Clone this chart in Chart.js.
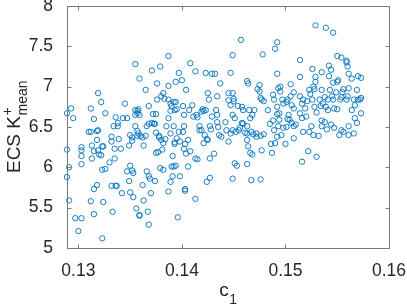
<!DOCTYPE html>
<html>
<head>
<meta charset="utf-8">
<script src="https://cdn.jsdelivr.net/npm/chart.js@4.4.0/dist/chart.umd.min.js"></script>
<style>
  html, body { margin: 0; padding: 0; background: #fff; }
  #wrap { width: 407px; height: 308px; }
</style>
</head>
<body>
<div id="wrap"><canvas id="chart" width="407" height="308"></canvas></div>
<script>
// values (c1, ECS K+mean)
const c1Values = [
  0.1289,0.1293,0.1295,0.1289,0.1291,0.1289,0.1291,0.1297,0.1300,0.1303,
  0.1303,0.1303,0.1303,0.1303,0.1312,0.1315,0.1310,0.1312,0.1318,0.1319,
  0.1313,0.1315,0.1319,0.1313,0.1318,0.1319,0.1315,0.1312,0.1318,0.1315,
  0.1320,0.1322,0.1326,0.1323,0.1322,0.1323,0.1326,0.1323,0.1324,0.1324,
  0.1330,0.1332,0.1332,0.1334,0.1338,0.1338,0.1333,0.1332,0.1336,0.1337,
  0.1335,0.1335,0.1339,0.1343,0.1345,0.1347,0.1341,0.1342,0.1336,
  0.1355,0.1359,0.1371,0.1379,0.1376,0.1355,0.1357,0.1358,0.1357,0.1359,
  0.1355,0.1368,0.1376,0.1375,0.1373,0.1374,0.1372,0.1365,0.1380,0.1382,
  0.1383,0.1349,0.1350,0.1347,0.1350,0.1352,0.1352,0.1355,0.1357,0.1357,
  0.1358,0.1360,0.1362,0.1363,0.1365,0.1366,0.1368,0.1371,0.1375,0.1375,
  0.1377,0.1378,0.1378,0.1380,0.1381,0.1382,0.1384,0.1385,0.1349,0.1350,
  0.1352,0.1353,0.1353,0.1356,0.1362,0.1363,0.1366,0.1368,0.1369,0.1370,
  0.1374,0.1379,0.1382,0.1359,0.1359,0.1367,0.1368,
  0.1387,0.1394,0.1397,0.1400,0.1408,0.1413,0.1423,0.1429,0.1387,0.1387,
  0.1389,0.1390,0.1392,0.1394,0.1395,0.1393,0.1389,0.1404,0.1401,0.1402,
  0.1407,0.1410,0.1414,0.1415,0.1419,0.1420,0.1421,0.1423,0.1425,0.1426,
  0.1429,0.1387,0.1389,0.1391,0.1392,0.1393,0.1393,0.1395,0.1397,0.1398,
  0.1401,0.1402,0.1402,0.1403,0.1404,0.1406,0.1408,0.1411,0.1413,0.1415,
  0.1417,0.1417,0.1419,0.1421,0.1422,0.1424,0.1425,0.1427,0.1428,0.1387,
  0.1389,0.1390,0.1391,0.1392,0.1394,0.1398,0.1403,0.1403,0.1406,0.1413,
  0.1424,0.1427,0.1396,0.1431,0.1427,
  0.1432,0.1437,0.1447,0.1449,0.1457,0.1463,0.1464,0.1478,0.1433,0.1434,
  0.1434,0.1445,0.1445,0.1447,0.1449,0.1450,0.1454,0.1449,0.1450,0.1458,
  0.1459,0.1465,0.1466,0.1468,0.1470,0.1473,0.1475,0.1475,0.1476,0.1477,
  0.1479,0.1434,0.1435,0.1436,0.1438,0.1442,0.1443,0.1445,0.1447,0.1449,
  0.1451,0.1452,0.1455,0.1456,0.1458,0.1459,0.1461,0.1463,0.1463,0.1463,
  0.1464,0.1466,0.1467,0.1469,0.1472,0.1472,0.1476,0.1477,0.1479,0.1449,
  0.1451,0.1453,0.1463,0.1467,0.1476,0.1468,
  0.1490,0.1492,0.1492,0.1495,0.1505,0.1514,0.1483,0.1488,0.1489,0.1492,
  0.1492,0.1494,0.1493,0.1495,0.1497,0.1498,0.1501,0.1502,0.1502,0.1505,
  0.1508,0.1506,0.1508,0.1485,0.1488,0.1489,0.1490,0.1492,0.1493,0.1494,
  0.1496,0.1498,0.1500,0.1501,0.1503,0.1504,0.1506,0.1508,0.1508,0.1510,
  0.1487,0.1486,
  0.1514,0.1526,0.1529,0.1529,0.1529,0.1539,0.1546,0.1550,0.1554,0.1559,
  0.1559,0.1560,0.1542,0.1544,0.1542,0.1546,0.1550,0.1561,0.1564,0.1570,
  0.1573,0.1551,0.1535,0.1514,0.1516,0.1517,0.1519,0.1521,0.1523,0.1524,
  0.1527,0.1528,0.1526,0.1528,0.1530,0.1533,0.1534,0.1535,0.1536,0.1538,
  0.1539,0.1541,0.1541,0.1543,0.1545,0.1546,0.1547,0.1549,0.1553,0.1554,
  0.1555,0.1556,0.1559,0.1560,0.1561,0.1564,0.1566,0.1567,0.1569,0.1570,
  0.1572,0.1573,0.1573,0.1517,0.1520,0.1523,0.1525,0.1527,0.1532,0.1535,
  0.1535,0.1538,0.1540,0.1544,0.1547,0.1550,0.1552,0.1554,0.1556,0.1561,
  0.1561,0.1566,0.1567,0.1569,0.1516,0.1530,0.1522,0.1514,0.1516
];
const kMeanValues = [
  6.67,6.73,6.61,6.22,6.00,5.88,5.59,5.37,5.21,5.37,
  6.25,6.21,6.14,6.04,6.73,6.60,6.44,6.44,6.45,6.46,
  6.27,6.20,6.21,6.11,6.34,6.92,5.42,5.58,5.78,5.73,
  6.16,6.81,6.67,6.26,6.15,5.97,5.98,5.12,5.57,6.26,
  6.06,6.38,6.32,6.51,6.55,6.51,5.45,5.77,5.77,5.77,
  6.23,6.11,6.35,6.61,6.79,6.61,6.23,5.68,6.62,
  7.28,7.10,7.20,7.25,7.04,6.71,6.70,6.72,6.67,6.65,
  6.65,6.76,6.84,6.66,6.54,6.54,6.66,6.96,6.88,6.92,
  6.85,6.27,6.02,5.95,6.40,6.37,6.33,6.51,6.45,6.39,
  6.42,6.39,6.37,6.27,6.39,6.51,6.54,6.55,6.43,6.18,
  6.19,6.39,6.37,6.34,6.22,6.30,6.35,6.51,5.83,5.69,
  5.96,5.93,5.63,5.49,5.78,5.59,5.95,5.89,5.86,5.68,
  5.83,5.99,5.97,5.41,5.40,5.45,5.29,
  7.38,7.06,7.17,7.08,7.29,7.19,7.17,7.16,7.01,6.84,
  6.79,6.76,6.81,6.81,6.72,6.71,6.70,6.96,6.76,6.65,
  6.71,6.77,6.65,6.62,6.69,6.72,6.70,6.71,6.92,6.84,
  6.63,6.61,6.42,6.14,6.51,6.31,6.29,6.36,6.44,6.32,
  6.44,6.51,6.23,6.29,6.17,6.34,6.20,6.63,6.11,6.10,
  6.51,6.46,6.46,6.30,6.40,6.35,6.34,6.51,6.47,5.70,
  5.82,6.01,5.89,6.01,6.02,5.89,5.73,5.71,6.01,5.61,
  5.82,5.87,5.38,6.17,6.11,
  7.16,7.04,7.17,7.39,7.58,7.07,7.04,7.40,6.71,6.65,
  6.88,6.92,6.83,6.77,6.92,6.82,6.76,6.65,6.85,6.75,
  6.71,6.71,6.61,6.65,6.71,6.97,7.02,6.94,6.86,6.84,
  6.82,6.56,6.50,6.40,6.38,6.56,6.46,6.32,6.42,6.46,
  6.61,6.44,6.46,6.49,6.55,6.54,6.43,6.51,6.42,6.34,
  6.26,6.18,6.44,6.41,6.42,6.38,6.39,6.21,6.41,5.86,
  6.05,6.02,6.04,5.84,5.85,6.16,
  7.47,7.55,7.16,7.00,7.03,7.12,6.71,6.90,6.84,6.75,
  6.66,6.67,6.98,6.94,6.84,6.79,6.81,6.84,6.60,6.88,
  6.93,6.77,6.73,6.54,6.58,6.46,6.30,6.38,6.51,6.59,
  6.40,6.49,6.29,6.50,6.65,6.59,6.55,6.51,6.36,6.53,
  6.18,6.29,
  7.33,7.22,7.12,7.06,7.76,7.73,7.67,7.38,7.36,7.32,
  7.30,7.25,7.26,7.21,7.13,7.05,7.06,7.16,7.10,7.13,
  7.11,7.08,7.18,6.88,6.79,6.84,6.73,6.82,6.96,6.91,
  7.00,6.97,6.84,6.75,6.68,6.84,6.76,6.96,6.79,6.87,
  6.75,6.71,6.84,6.96,6.88,6.84,6.73,6.93,6.84,6.87,
  6.93,6.97,6.84,6.88,6.98,6.71,6.84,6.77,6.96,6.84,
  6.84,6.86,6.67,6.44,6.63,6.44,6.51,6.40,6.39,6.51,
  6.58,6.56,6.47,6.53,6.49,6.72,6.40,6.46,6.44,6.51,
  6.40,6.42,6.61,6.55,6.07,6.13,6.20,6.67,6.61
];

const xTicks = [0.13, 0.14, 0.15, 0.16];
const xTickLabels = ['0.13', '0.14', '0.15', '0.16'];
const yTicks = [5, 5.5, 6, 6.5, 7, 7.5, 8];
const yTickLabels = ['5', '5.5', '6', '6.5', '7', '7.5', '8'];
const xRange = [0.1289, 0.16];
const yRange = [5, 8];

const FONT = '"Liberation Sans", Arial, Helvetica, sans-serif';
const TEXT = '#262626';
const AXIS = '#7a7a7a';
const BLUE = '#0072BD';

const points = c1Values.map((x, i) => ({ x: x, y: kMeanValues[i] }));

// box + inward ticks on all four sides
const framePlugin = {
  id: 'frame',
  afterDraw(chart) {
    const ctx = chart.ctx;
    const a = chart.chartArea;
    const sx = chart.scales.x, sy = chart.scales.y;
    const L = Math.round(a.left) + 0.5, R = Math.round(a.right) + 0.5;
    const T = Math.round(a.top) + 0.5, B = Math.round(a.bottom) + 0.5;
    const tick = 4;
    ctx.save();
    ctx.strokeStyle = AXIS;
    ctx.lineWidth = 1;
    ctx.strokeRect(L, T, R - L, B - T);
    ctx.beginPath();
    xTicks.forEach(v => {
      const px = Math.round(sx.getPixelForValue(v)) + 0.5;
      ctx.moveTo(px, B); ctx.lineTo(px, B - tick);
      ctx.moveTo(px, T); ctx.lineTo(px, T + tick);
    });
    yTicks.forEach(v => {
      const py = Math.round(sy.getPixelForValue(v)) + 0.5;
      ctx.moveTo(L, py); ctx.lineTo(L + tick, py);
      ctx.moveTo(R, py); ctx.lineTo(R - tick, py);
    });
    ctx.stroke();
    ctx.restore();
  }
};

// axis titles with sub/superscripts
const titlePlugin = {
  id: 'titles',
  afterDraw(chart) {
    const ctx = chart.ctx;
    const a = chart.chartArea;
    ctx.save();
    ctx.fillStyle = TEXT;
    ctx.textBaseline = 'alphabetic';
    ctx.textAlign = 'left';

    // y title: ECS K^+_mean
    const cy = (a.top + a.bottom) / 2;
    ctx.translate(20, cy);
    ctx.rotate(-Math.PI / 2);
    ctx.font = '19px ' + FONT;
    const main = 'ECS K';
    const w1 = ctx.measureText(main).width;
    ctx.font = '14px ' + FONT;
    const w2 = ctx.measureText('mean').width;
    const x0 = -(w1 + w2) / 2;
    ctx.font = '19px ' + FONT;
    ctx.fillText(main, x0, 0);
    ctx.font = '14px ' + FONT;
    ctx.fillText('mean', x0 + w1 + 0.5, 7);
    ctx.fillText('+', x0 + w1 + 0.5, -8);
    ctx.setTransform(1, 0, 0, 1, 0, 0);

    // x title: c_1
    const cx = (a.left + a.right) / 2;
    ctx.font = '19px ' + FONT;
    const wc = ctx.measureText('c').width;
    ctx.font = '14px ' + FONT;
    const wn = ctx.measureText('1').width;
    const sx0 = cx - (wc + wn) / 2;
    ctx.font = '19px ' + FONT;
    ctx.fillText('c', sx0, 296);
    ctx.font = '14px ' + FONT;
    ctx.fillText('1', sx0 + wc + 0.5, 304);
    ctx.restore();
  }
};

new Chart(document.getElementById('chart'), {
  type: 'scatter',
  data: {
    datasets: [{
      data: points,
      pointStyle: 'circle',
      pointRadius: 2.7,
      pointBorderWidth: 0.9,
      borderColor: BLUE,
      backgroundColor: 'rgba(0,0,0,0)',
      clip: false
    }]
  },
  options: {
    responsive: false,
    animation: false,
    devicePixelRatio: 1,
    layout: { padding: { top: 6, right: 18, left: 0, bottom: 0 } },
    plugins: { legend: { display: false }, tooltip: { enabled: false } },
    scales: {
      x: {
        type: 'linear',
        min: xRange[0],
        max: xRange[1],
        afterBuildTicks: s => { s.ticks = xTicks.map(v => ({ value: v })); },
        afterFit: s => { s.height = 60; s.paddingLeft = 0; s.paddingRight = 0; },
        ticks: {
          callback: v => xTickLabels[xTicks.indexOf(v)],
          font: { family: FONT, size: 17.5 },
          color: TEXT,
          padding: 5,
          maxRotation: 0,
          autoSkip: false
        },
        grid: { display: false },
        border: { display: false }
      },
      y: {
        type: 'linear',
        min: yRange[0],
        max: yRange[1],
        afterBuildTicks: s => { s.ticks = yTicks.map(v => ({ value: v })); },
        afterFit: s => { s.width = 67; s.paddingTop = 0; s.paddingBottom = 0; },
        ticks: {
          callback: v => yTickLabels[yTicks.indexOf(v)],
          font: { family: FONT, size: 17.5 },
          color: TEXT,
          padding: 6,
          autoSkip: false
        },
        grid: { display: false },
        border: { display: false }
      }
    }
  },
  plugins: [framePlugin, titlePlugin]
});
</script>
</body>
</html>
